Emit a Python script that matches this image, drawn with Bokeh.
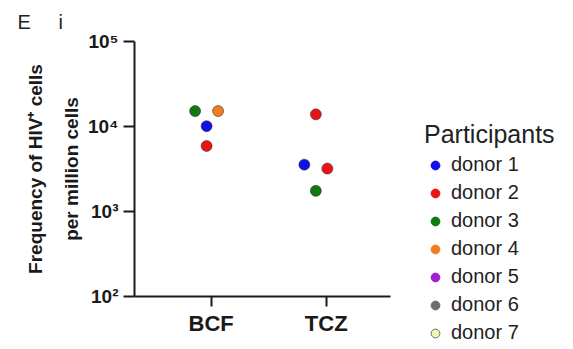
from bokeh.plotting import figure
from bokeh.models import (ColumnDataSource, Legend, LegendItem, FixedTicker, Range1d)
from bokeh.embed import file_html
from bokeh.resources import INLINE

# ---------------- data ----------------
groups = ["BCF", "TCZ"]
group_pos = [1, 2]

donors = ["donor 1", "donor 2", "donor 3", "donor 4", "donor 5", "donor 6", "donor 7"]
donor_fill = ["#1010e8", "#e81414", "#0f7a12", "#f07d1e", "#a11ed2", "#6e6e6e", "#f4f4b4"]
legend_line = ["#1010e8", "#e81414", "#0f7a12", "#f07d1e", "#a11ed2", "#6e6e6e", "#6e6e6e"]

pt_group = ["BCF", "BCF", "BCF", "BCF", "TCZ", "TCZ", "TCZ", "TCZ"]
pt_donor = ["donor 3", "donor 4", "donor 1", "donor 2", "donor 2", "donor 1", "donor 2", "donor 3"]
pt_value = [15200, 15200, 10100, 5900, 13900, 3560, 3200, 1750]
pt_jitter = [-0.14, 0.06, -0.04, -0.04, -0.09, -0.19, 0.01, -0.09]

y_ticks = [100, 1000, 10000, 100000]
y_tick_labels = ["10²", "10³", "10⁴", "10⁵"]

panel_title = "E\u00a0\u00a0\u00a0\u00a0\u00a0i"

FONT = "Liberation Sans"

# ---------------- figure ----------------
x_start, x_end = 0.333, 2.559
p = figure(frame_width=256, frame_height=255,
           x_range=Range1d(x_start, x_end), y_range=Range1d(100, 100000),
           y_axis_type="log", output_backend="svg", toolbar_location=None,
           min_border_left=134, min_border_right=183,
           min_border_top=41, min_border_bottom=53)
p.outline_line_color = None
p.xgrid.grid_line_color = None
p.ygrid.grid_line_color = None
p.background_fill_color = "white"

p.title.text = panel_title
p.title.align = "left"
p.title.offset = -117
p.title.standoff = 17
p.title.text_font = FONT
p.title.text_font_size = "20px"
p.title.text_font_style = "normal"
p.title.text_color = "#222222"

# x axis
p.xaxis.ticker = FixedTicker(ticks=group_pos)
p.xaxis.major_label_overrides = {k: v for k, v in zip(group_pos, groups)}
p.xaxis.minor_tick_line_color = None
p.xaxis.major_tick_in = 0
p.xaxis.major_tick_out = 10
p.xaxis.major_label_standoff = 4
p.xaxis.major_label_text_font = FONT
p.xaxis.major_label_text_font_style = "bold"
p.xaxis.major_label_text_font_size = "22px"
p.xaxis.major_label_text_color = "#1a1a1a"

# y axis
p.yaxis.ticker = FixedTicker(ticks=y_ticks, minor_ticks=[])
p.yaxis.major_label_overrides = {k: v for k, v in zip(y_ticks, y_tick_labels)}
p.yaxis.minor_tick_line_color = None
p.yaxis.major_tick_in = 0
p.yaxis.major_tick_out = 11
p.yaxis.major_label_standoff = 5
p.yaxis.major_label_text_font = FONT
p.yaxis.major_label_text_font_style = "bold"
p.yaxis.major_label_text_font_size = "19px"
p.yaxis.major_label_text_color = "#1a1a1a"
p.yaxis.axis_label = "Frequency of HIV⁺ cells\nper million cells"
p.yaxis.axis_label_text_font = FONT
p.yaxis.axis_label_text_font_style = "bold"
p.yaxis.axis_label_text_font_size = "19px"
p.yaxis.axis_label_text_line_height = 1.7
p.yaxis.axis_label_standoff = 3
p.yaxis.axis_label_text_color = "#1a1a1a"

for ax in (p.xaxis, p.yaxis):
    ax.axis_line_width = 2
    ax.axis_line_color = "#1a1a1a"
    ax.major_tick_line_width = 2
    ax.major_tick_line_color = "#1a1a1a"

# ---------------- points ----------------
color_of = dict(zip(donors, donor_fill))
pos_of = dict(zip(groups, group_pos))
src = ColumnDataSource(dict(
    x=[pos_of[g] + j for g, j in zip(pt_group, pt_jitter)],
    y=pt_value,
    color=[color_of[d] for d in pt_donor],
    donor=pt_donor,
))
p.scatter("x", "y", source=src, size=11, fill_color="color",
          line_color="#3a2a2a", line_alpha=0.55, line_width=1)

# ---------------- legend (right panel) ----------------
nan = float("nan")
items = []
for d, fc, lc in zip(donors, donor_fill, legend_line):
    r = p.scatter(x=[nan], y=[nan], size=9, fill_color=fc, line_color=lc, line_width=1)
    items.append(LegendItem(label=d, renderers=[r]))

legend = Legend(items=items, location=(34, -48), title="Participants",
                padding=0, margin=0, spacing=5,
                glyph_width=22, glyph_height=22, label_height=22,
                label_standoff=5, title_standoff=4,
                background_fill_alpha=0, border_line_color=None)
legend.label_text_font = FONT
legend.label_text_font_size = "20px"
legend.label_text_color = "#222222"
legend.title_text_font = FONT
legend.title_text_font_size = "25px"
legend.title_text_font_style = "normal"
legend.title_text_color = "#222222"
p.add_layout(legend, "right")

open("out.html", "w").write(file_html(p, INLINE))
